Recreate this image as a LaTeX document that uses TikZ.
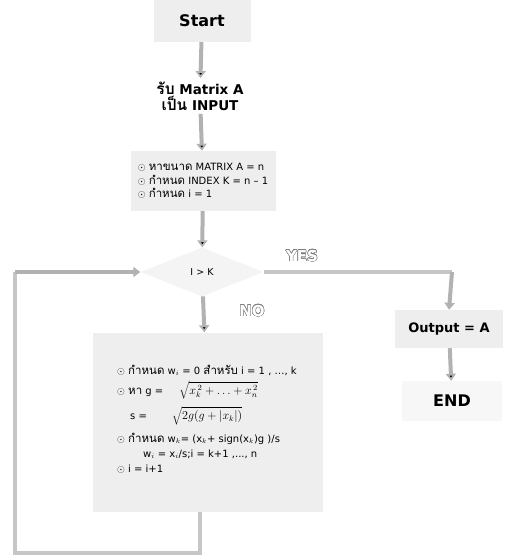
\documentclass[tikz,border=0pt]{standalone}
\usepackage{fontspec}
\setmainfont{DejaVu Sans}
\newfontfamily\thaifont[Script=Thai,Scale=1.15]{Loma}
\usepackage{contour}
\usetikzlibrary{shapes.geometric,arrows.meta,positioning}
\newcommand{\thaitxt}[1]{{\thaifont #1}}
\newcommand{\dotmark}{\ensuremath{\odot}}
\newcommand{\bigmath}[1]{{\fontsize{12}{14}\selectfont$#1$}}

\begin{document}
\begin{tikzpicture}[x=1pt,y=-1pt,
  box/.style={fill=gray!13,inner sep=0pt},
  flow/.style={draw=gray!60,line width=4pt,-{Triangle[length=7pt,width=10pt]}},
  loopline/.style={draw=gray!45,line width=4pt}]
\useasboundingbox (0,0) rectangle (504,557);
\node[box,minimum width=97,minimum height=42,font=\bfseries\fontsize{16}{18}\selectfont] (start) at (202,21) {Start};
\node[align=center,font=\bfseries\fontsize{13.5}{16}\selectfont] (input) at (200,96) {\thaitxt{รับ} Matrix A\\\thaitxt{เป็น} INPUT};
\node[box,minimum width=145,minimum height=60,align=left,font=\fontsize{10}{13.5}\selectfont] (init) at (203,181)
 {\dotmark\ \thaitxt{หาขนาด} MATRIX A = n\\
  \dotmark\ \thaitxt{กำหนด} INDEX K = n -- 1\\
  \dotmark\ \thaitxt{กำหนด} i = 1};
\node[diamond,fill=gray!9,minimum width=123,minimum height=49,inner sep=0pt,font=\fontsize{9.5}{10}\selectfont] (check) at (202,272) {I > K};
\node[box,minimum width=230,minimum height=179] (loop) at (208,422) {};
\node[align=left,font=\fontsize{10}{15}\selectfont] (steps) at (207,419)
 {\dotmark\ \thaitxt{กำหนด} w$_i$ = 0 \thaitxt{สำหรับ} i = 1 , \dots , k\\[5pt]
  \dotmark\ \thaitxt{หา} g = \hspace{1.3em}\bigmath{\sqrt{x_k^{\,2}+\dots+x_n^{\,2}}}\\[6pt]
  \hspace{1.3em}s = \hspace{2.2em}\bigmath{\sqrt{2g(g+|x_k|)}}\\[8pt]
  \dotmark\ \thaitxt{กำหนด} w$_k$= (x$_k$+ sign(x$_k$)g )/s\\
  \hspace{2.6em}w$_i$ = x$_i$/s;i = k+1 ,..., n\\
  \dotmark\ i = i+1};
\node[box,minimum width=108,minimum height=38,font=\bfseries\fontsize{13}{15}\selectfont] (output) at (449,329) {Output = A};
\node[box,fill=gray!6,minimum width=100,minimum height=40,font=\bfseries\fontsize{16}{18}\selectfont] (finish) at (452,401) {END};
\node[font=\bfseries\fontsize{15}{16}\selectfont] (yes) at (302,256) {\contour{gray}{\color{white}YES}};
\node[font=\bfseries\fontsize{15}{16}\selectfont] (no) at (252,311) {\contour{gray}{\color{white}NO}};
\coordinate (turn) at (452,272);
\coordinate (down) at (200,553);
\coordinate (corner) at (15,553);
\coordinate (up) at (15,272);
\path[flow]
 (start) edge (input)
 (input) edge (init)
 (init) edge (check)
 (check) edge (loop)
 (output) edge (finish)
 ;
\draw[loopline] (check.east) -- (turn);
\draw[flow] (turn) -- (output.north);
\draw[loopline] (down |- loop.south) -- (down) -- (corner) -- (up);
\draw[flow] (up) -- (check.west);
\end{tikzpicture}
\end{document}
